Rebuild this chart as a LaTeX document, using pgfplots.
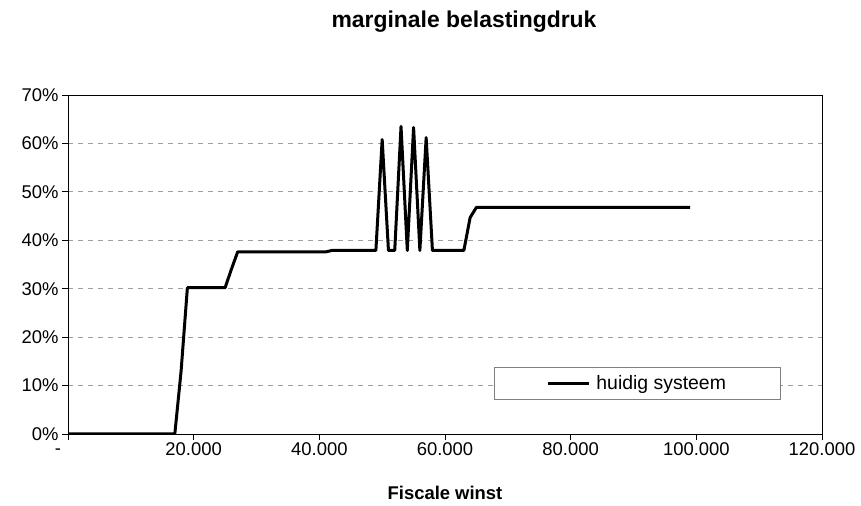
\documentclass[border=0pt]{standalone}
\usepackage{fontspec}
\setmainfont{Liberation Sans}
\usepackage{pgfplots}
\pgfplotsset{compat=1.18}
\begin{document}
\begin{tikzpicture}
\useasboundingbox (0,0) rectangle (861bp,506bp);
\begin{axis}[
  at={(68bp,72bp)}, anchor=south west,
  scale only axis, width=754bp, height=339bp,
  xmin=0, xmax=120000, ymin=0, ymax=70,
  xtick={20000,40000,60000,80000,100000,120000},
  xticklabels={20.000,40.000,60.000,80.000,100.000,120.000},
  extra x ticks={0}, extra x tick labels={-},
  extra x tick style={xticklabel style={xshift=-10bp, yshift=-6bp}},
  ytick={0,10,20,30,40,50,60,70},
  yticklabels={0\%,10\%,20\%,30\%,40\%,50\%,60\%,70\%},
  scaled x ticks=false,
  tick align=outside, tick pos=left, major tick length=6bp,
  ymajorgrids, grid style={gray!75, dash pattern=on 5bp off 5bp, line width=0.8bp},
  axis line style={black, line width=0.8bp},
  tick style={black, line width=0.8bp},
  tick label style={font=\fontsize{18.5}{20}\selectfont},
  xticklabel style={yshift=1bp, text depth=0pt},
  xlabel={Fiscale winst},
  xlabel style={font=\bfseries\fontsize{18.5}{21}\selectfont, at={(axis description cs:0.5,-0.174)}, anchor=center},
  legend style={at={(0.565,0.198)}, anchor=north west, draw=gray, line width=0.8bp,
    inner xsep=52bp, inner ysep=6.5bp, font=\fontsize{19.5}{22}\selectfont},
  legend image code/.code={\draw[black, line width=3bp] (0bp,0bp) -- (41bp,0bp); \path (45bp,0bp);},
]
\addplot[black, line width=3bp, line join=round] coordinates {
(0,0) (17000,0) (18000,13) (19000,30.2) (25000,30.2) (26000,34.0) (27000,37.6)
(41000,37.6) (42000,37.9) (49000,37.9) (50000,60.8) (51000,37.9) (52000,37.9)
(53000,63.5) (54000,37.9) (55000,63.3) (56000,37.9) (57000,61.2) (58000,37.9)
(63000,37.9) (64000,44.7) (65000,46.8) (99000,46.8)
};
\addlegendentry{huidig systeem}
\end{axis}
\node[font=\bfseries\fontsize{23}{26}\selectfont] at (464bp,484bp) {marginale belastingdruk};
\end{tikzpicture}
\end{document}
